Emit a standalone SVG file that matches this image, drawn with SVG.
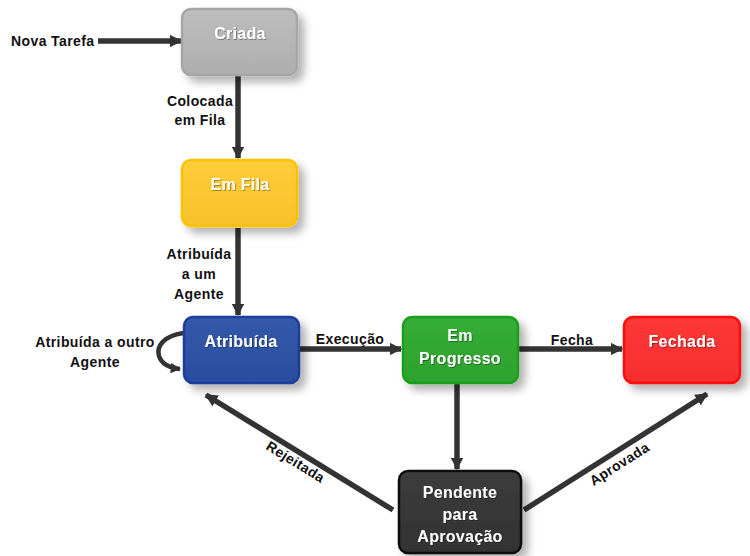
<svg xmlns="http://www.w3.org/2000/svg" width="750" height="556" viewBox="0 0 750 556">
<defs>
<filter id="sh" x="-20%" y="-20%" width="150%" height="150%">
<feDropShadow dx="6" dy="6" stdDeviation="4" flood-color="#000" flood-opacity="0.3"/>
</filter>
<filter id="ts" x="-10%" y="-10%" width="120%" height="130%">
<feDropShadow dx="0.8" dy="0.8" stdDeviation="0.5" flood-color="#000" flood-opacity="0.45"/>
</filter>
<marker id="ah" viewBox="0 0 10 10" refX="9" refY="5" markerWidth="2.3" markerHeight="2.3" orient="auto" markerUnits="strokeWidth">
<path d="M0,0 L10,5 L0,10 z" fill="#333"/>
</marker>
<linearGradient id="gGray" x1="0" y1="0" x2="0" y2="1"><stop offset="0" stop-color="#BDBDBD"/><stop offset="1" stop-color="#AEAEAE"/></linearGradient>
<linearGradient id="gYel" x1="0" y1="0" x2="0" y2="1"><stop offset="0" stop-color="#FFCD38"/><stop offset="1" stop-color="#F7C12A"/></linearGradient>
<linearGradient id="gBlue" x1="0" y1="0" x2="0" y2="1"><stop offset="0" stop-color="#3459AA"/><stop offset="1" stop-color="#2A4E9E"/></linearGradient>
<linearGradient id="gGreen" x1="0" y1="0" x2="0" y2="1"><stop offset="0" stop-color="#36AD36"/><stop offset="1" stop-color="#2DA22D"/></linearGradient>
<linearGradient id="gRed" x1="0" y1="0" x2="0" y2="1"><stop offset="0" stop-color="#FF3838"/><stop offset="1" stop-color="#F52E2E"/></linearGradient>
<linearGradient id="gDark" x1="0" y1="0" x2="0" y2="1"><stop offset="0" stop-color="#3C3C3C"/><stop offset="1" stop-color="#333"/></linearGradient>
</defs>
<style>
.box{stroke-width:2.5;filter:url(#sh)}
.nt{font-family:"Liberation Sans",Arial,sans-serif;font-weight:bold;font-size:16px;letter-spacing:0.3px;fill:#fff;text-anchor:middle;filter:url(#ts)}
.lbl{font-family:"Liberation Sans",Arial,sans-serif;font-weight:bold;font-size:14px;letter-spacing:0.4px;fill:#111}
.c{fill:none;stroke:#333;stroke-width:5.5;marker-end:url(#ah)}
</style>
<rect width="750" height="556" fill="#fff"/>
<g id="connectors">
<line class="c" x1="98" y1="41" x2="181" y2="41"/>
<line class="c" x1="238" y1="76" x2="238" y2="158"/>
<line class="c" x1="238" y1="228" x2="238" y2="315"/>
<line class="c" x1="300" y1="349" x2="401" y2="349"/>
<line class="c" x1="519" y1="349" x2="622" y2="349"/>
<line class="c" x1="457" y1="384" x2="457" y2="469"/>
<line class="c" x1="393" y1="510" x2="206" y2="395"/>
<line class="c" x1="524" y1="510" x2="707" y2="394"/>
<path d="M183,333 C164,336 156,346 159,356 C162,365 170,368 180,369" fill="none" stroke="#333" stroke-width="4.5" marker-end="url(#ah)"/>
</g>
<g id="labels">
<text class="lbl" x="11" y="46">Nova Tarefa</text>
<text class="lbl" x="200" y="106" text-anchor="middle">Colocada</text>
<text class="lbl" x="200" y="125" text-anchor="middle">em Fila</text>
<text class="lbl" x="199" y="259" text-anchor="middle">Atribuída</text>
<text class="lbl" x="199" y="279" text-anchor="middle">a um</text>
<text class="lbl" x="199" y="299" text-anchor="middle">Agente</text>
<text class="lbl" x="95" y="347" text-anchor="middle">Atribuída a outro</text>
<text class="lbl" x="95" y="367" text-anchor="middle">Agente</text>
<text class="lbl" x="350" y="344" text-anchor="middle">Execução</text>
<text class="lbl" x="572" y="345" text-anchor="middle">Fecha</text>
<text class="lbl" text-anchor="middle" transform="translate(293,466) rotate(31.6)">Rejeitada</text>
<text class="lbl" text-anchor="middle" transform="translate(622,468) rotate(-32.5)">Aprovada</text>
</g>
<g id="criada">
<rect class="box" x="182" y="9" width="115" height="66" rx="9" fill="url(#gGray)" stroke="#A6A6A6"/>
<text class="nt" x="240" y="39" fill="#F2F2F2">Criada</text>
</g>
<g id="emfila">
<rect class="box" x="182" y="160" width="115" height="66" rx="9" fill="url(#gYel)" stroke="#FFC000"/>
<text class="nt" x="240" y="190">Em Fila</text>
</g>
<g id="atribuida">
<rect class="box" x="184" y="317" width="115" height="66" rx="9" fill="url(#gBlue)" stroke="#1A3E9C"/>
<text class="nt" x="241" y="347">Atribuída</text>
</g>
<g id="emprogresso">
<rect class="box" x="403" y="317" width="115" height="66" rx="9" fill="url(#gGreen)" stroke="#1E9E1E"/>
<text class="nt" x="460" y="341">Em</text>
<text class="nt" x="460" y="364">Progresso</text>
</g>
<g id="fechada">
<rect class="box" x="624" y="317" width="116" height="66" rx="9" fill="url(#gRed)" stroke="#FF0A0A"/>
<text class="nt" x="682" y="347">Fechada</text>
</g>
<g id="pendente">
<rect class="box" x="399" y="471" width="122" height="82" rx="9" fill="url(#gDark)" stroke="#111"/>
<text class="nt" x="460" y="498">Pendente</text>
<text class="nt" x="460" y="520">para</text>
<text class="nt" x="460" y="542">Aprovação</text>
</g>
</svg>
